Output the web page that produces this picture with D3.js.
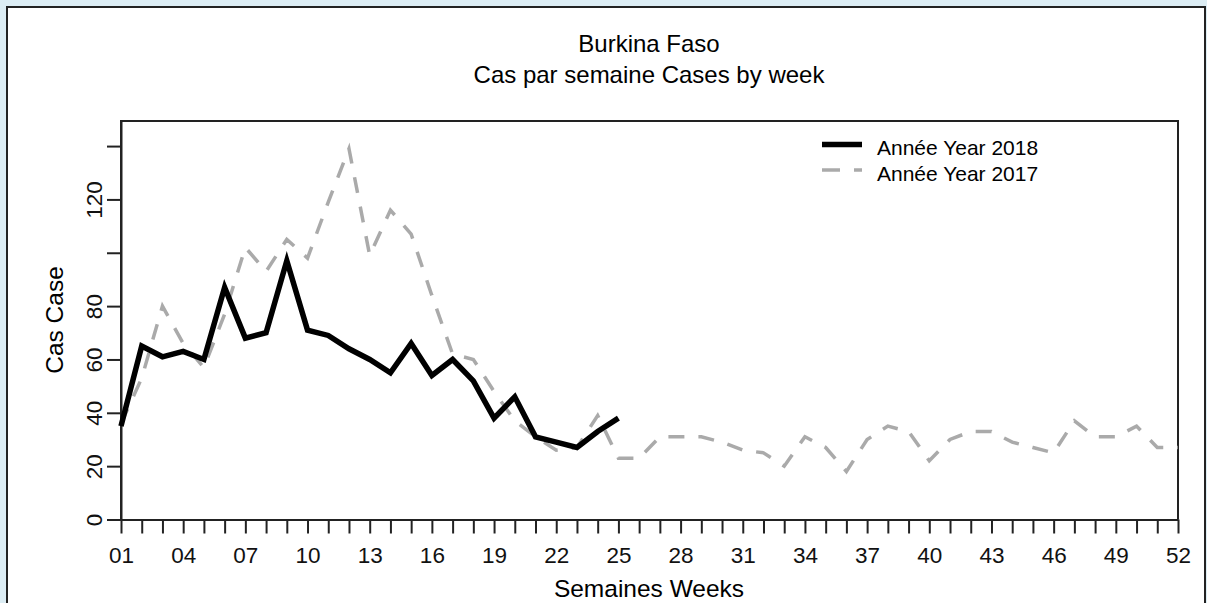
<!DOCTYPE html>
<html>
<head>
<meta charset="utf-8">
<script src="https://cdn.jsdelivr.net/npm/d3@7"></script>
<style>
  html, body { margin: 0; padding: 0; background: #dcedf4; }
  svg { display: block; font-family: Arial, "Liberation Sans", sans-serif; }
</style>
</head>
<body>
<div id="chart"></div>
<script>
// weeks and weekly cases
var weeks = [1,2,3,4,5,6,7,8,9,10,11,12,13,14,15,16,17,18,19,20,21,22,23,24,25,26,
  27,28,29,30,31,32,33,34,35,36,37,38,39,40,41,42,43,44,45,46,47,48,49,50,51,52];
var cases2018 = [35,65,61,63,60,87,68,70,97,71,69,64,60,55,66,54,60,52,38,46,31,29,27,33,38];
var cases2017 = [36,53,80,66,57,77,102,93,105,98,119,139,99,116,107,84,62,60,48,37,
  31,26,27,39,23,23,31,31,31,29,26,25,20,31,27,18,30,35,33,22,
  30,33,33,29,27,25,37,31,31,35,27,27];
var yTicks = [0,20,40,60,80,100,120,140];
var yTickLabels = ["0","20","40","60","80","","120",""];
var xLabelWeeks = [1,4,7,10,13,16,19,22,25,28,31,34,37,40,43,46,49,52];
var seriesNames = ["Année Year 2018", "Année Year 2017"];

var W = 1207, H = 603;
var plotL = 121, plotR = 1178, plotT = 121, plotB = 519.5;

var svg = d3.select("#chart").append("svg")
  .attr("width", W).attr("height", H);

// outer frame
svg.append("rect")
  .attr("x", 7).attr("y", 7).attr("width", 1198).attr("height", 620)
  .attr("fill", "white").attr("stroke", "#222").attr("stroke-width", 2);

var x = d3.scaleLinear().domain([1, 52]).range([plotL, plotR]);
var y = d3.scaleLinear().domain([0, 149.4]).range([plotB, plotT]);

// title
svg.append("text").attr("x", 649).attr("y", 52).attr("text-anchor", "middle")
  .attr("font-size", 24).text("Burkina Faso");
svg.append("text").attr("x", 649).attr("y", 83).attr("text-anchor", "middle")
  .attr("font-size", 24).text("Cas par semaine Cases by week");

// box
svg.append("path")
  .attr("d", "M" + plotL + "," + plotB + "V" + plotT + "H" + plotR + "V" + plotB)
  .attr("fill", "none").attr("stroke", "#222").attr("stroke-width", 2);

// x axis
var xAxis = svg.append("g")
  .attr("transform", "translate(0," + plotB + ")")
  .call(d3.axisBottom(x).tickValues(weeks).tickSize(14).tickSizeOuter(0).tickPadding(14)
    .tickFormat(function(d) {
      return xLabelWeeks.indexOf(d) >= 0 ? (d < 10 ? "0" + d : "" + d) : "";
    }));
xAxis.select(".domain").attr("stroke", "#222").attr("stroke-width", 2);
xAxis.selectAll(".tick line").attr("stroke", "#222").attr("stroke-width", 2);
xAxis.selectAll(".tick text").attr("font-size", 22.5).attr("fill", "#111")
  .attr("font-family", "Arial, 'Liberation Sans', sans-serif");

// y axis
var yAxis = svg.append("g")
  .attr("transform", "translate(" + plotL + ",0)")
  .call(d3.axisLeft(y).tickValues(yTicks).tickSize(14).tickSizeOuter(0)
    .tickFormat(function(d, i) { return yTickLabels[i]; }));
yAxis.select(".domain").attr("stroke", "#222").attr("stroke-width", 2);
yAxis.selectAll(".tick line").attr("stroke", "#222").attr("stroke-width", 2);
yAxis.selectAll(".tick text")
  .attr("font-size", 22.5).attr("fill", "#111")
  .attr("font-family", "Arial, 'Liberation Sans', sans-serif")
  .attr("x", null).attr("dy", null)
  .attr("text-anchor", "middle")
  .attr("transform", "translate(-19,0) rotate(-90)");

// axis titles
svg.append("text").attr("x", 649).attr("y", 597).attr("text-anchor", "middle")
  .attr("font-size", 24.5).text("Semaines Weeks");
svg.append("text").attr("transform", "translate(63,320) rotate(-90)")
  .attr("text-anchor", "middle").attr("font-size", 24.5).text("Cas Case");

// lines
var line = d3.line()
  .x(function(d, i) { return x(weeks[i]); })
  .y(function(d) { return y(d); });

svg.append("path").datum(cases2017)
  .attr("d", line).attr("fill", "none")
  .attr("stroke", "#aaaaaa").attr("stroke-width", 3.5)
  .attr("stroke-dasharray", "16,14");

svg.append("path").datum(cases2018)
  .attr("d", line).attr("fill", "none")
  .attr("stroke", "black").attr("stroke-width", 5.5)
  .attr("stroke-linejoin", "miter");

// legend
var legend = svg.append("g");
legend.append("line").attr("x1", 822).attr("x2", 862).attr("y1", 144.5).attr("y2", 144.5)
  .attr("stroke", "black").attr("stroke-width", 5.5);
legend.append("line").attr("x1", 822).attr("x2", 862).attr("y1", 170).attr("y2", 170)
  .attr("stroke", "#aaaaaa").attr("stroke-width", 3.5).attr("stroke-dasharray", "18,14");
legend.selectAll("text.lg").data(seriesNames).enter().append("text")
  .attr("class", "lg")
  .attr("x", 877).attr("y", function(d, i) { return 155 + i * 26; })
  .attr("font-size", 21).text(function(d) { return d; });
</script>
</body>
</html>
